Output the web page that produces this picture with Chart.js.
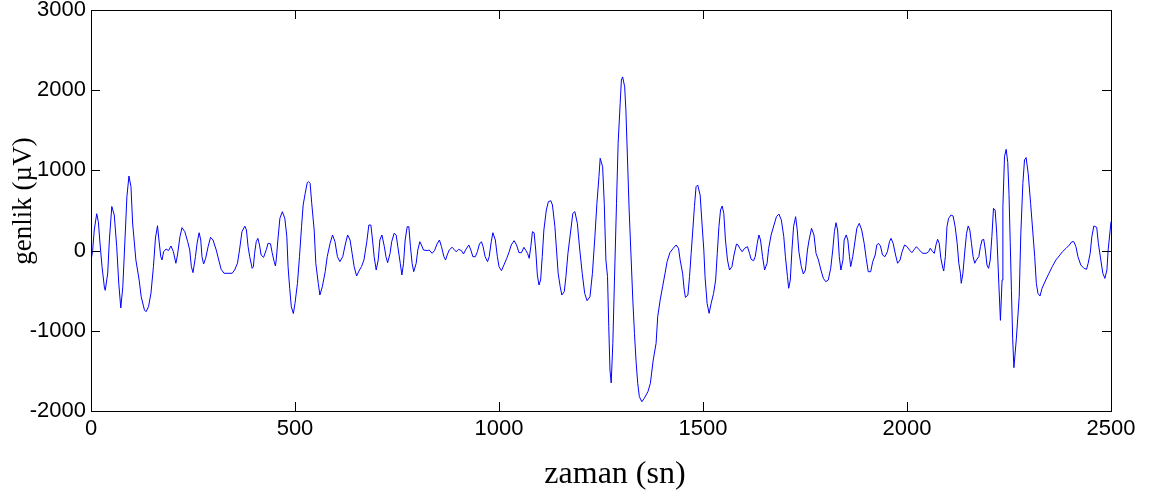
<!DOCTYPE html>
<html>
<head>
<meta charset="utf-8">
<script src="https://cdn.jsdelivr.net/npm/chart.js@4"></script>
<style>
  html, body { margin: 0; padding: 0; background: #fff; }
  canvas { display: block; }
</style>
</head>
<body>
<canvas id="chart" width="1168" height="495"></canvas>
<script>
// Sample times (sn)
const times = [
    0, 4, 8, 14, 18, 22, 27, 33, 35, 41, 45, 51, 57, 63, 68, 73, 78, 84, 88, 93, 98, 102, 110, 118, 123, 131, 135, 141, 147, 153, 158, 163, 166, 171, 174, 178, 184, 190, 196, 202, 208, 212, 218, 223, 230, 237,
    242, 246, 250, 256, 260, 265, 269, 272, 276, 281, 287, 293, 299, 307, 313, 319, 326, 336, 346, 352, 359, 364, 370, 377, 381, 385, 389, 395, 398, 401, 405, 409, 413, 417, 423, 430, 434, 440, 444, 449, 452, 454, 458, 463, 469, 475, 480, 483, 487, 491,
    496, 500, 506, 511, 516, 520, 525, 530, 533, 537, 541, 547, 551, 557, 561, 567, 574, 579, 586, 592, 598, 604, 610, 617, 623, 629, 635, 640, 645, 651, 658, 663, 669, 676, 681, 686, 690, 694, 699, 704, 708, 713, 719, 723, 727, 733, 737, 743,
    748, 752, 758, 762, 766, 770, 775, 779, 783, 787, 791, 797, 801, 806, 811, 815, 824, 829, 836, 842, 848, 854, 859, 865, 869, 873, 878, 885, 890, 895, 901, 908, 913, 919, 926, 931, 936, 942, 947, 952, 957, 961, 966, 972, 976, 981, 985, 991, 996,
    1000, 1006, 1012, 1019, 1025, 1030, 1037, 1043, 1049, 1055, 1061, 1066, 1070, 1074, 1078, 1082, 1086, 1090, 1094, 1098, 1102, 1106, 1110, 1116, 1121, 1127, 1131, 1137, 1141, 1145, 1150, 1154, 1160, 1164, 1169, 1176, 1181, 1186, 1192, 1198, 1204, 1210, 1216, 1223, 1229, 1235, 1240, 1245,
    1248, 1254, 1258, 1262, 1266, 1269, 1272, 1275, 1279, 1283, 1288, 1292, 1297, 1300, 1303, 1308, 1311, 1315, 1319, 1324, 1328, 1332, 1336, 1340, 1344, 1350, 1356, 1365, 1371, 1378, 1385, 1389, 1395, 1401, 1407, 1412, 1419, 1427, 1434, 1440, 1444, 1450, 1454, 1457, 1463, 1467, 1471, 1475, 1479, 1483, 1487, 1493,
    1497, 1502, 1505, 1510, 1515, 1520, 1526, 1531, 1535, 1539, 1543, 1547, 1551, 1555, 1560, 1565, 1571, 1576, 1582, 1586, 1590, 1596, 1602, 1609, 1614, 1618, 1624, 1628, 1633, 1637, 1641, 1646, 1651, 1657, 1661, 1667, 1674, 1680, 1686, 1692, 1698, 1702, 1707, 1710, 1714, 1718, 1722, 1727, 1731, 1735, 1741,
    1746, 1751, 1756, 1760, 1766, 1772, 1777, 1783, 1789, 1795, 1801, 1807, 1813, 1818, 1822, 1826, 1830, 1834, 1838, 1843, 1846, 1851, 1855, 1859, 1862, 1867, 1873, 1877, 1883, 1889, 1895, 1900, 1905, 1911, 1916, 1922, 1926, 1930, 1935, 1940, 1946, 1952, 1957, 1961, 1966, 1972, 1977, 1983, 1988,
    1994, 2000, 2006, 2012, 2018, 2023, 2029, 2034, 2039, 2047, 2053, 2057, 2063, 2067, 2071, 2075, 2079, 2083, 2088, 2090, 2094, 2098, 2102, 2108, 2113, 2118, 2123, 2127, 2131, 2133, 2137, 2142, 2146, 2150, 2154, 2158, 2162, 2166, 2170, 2176, 2180, 2184, 2188, 2192, 2196, 2200, 2204, 2208, 2212, 2216, 2220, 2225, 2229, 2233, 2235, 2239, 2243,
    2247, 2250, 2253, 2256, 2259, 2262, 2268, 2275, 2279, 2284, 2288, 2292, 2297, 2303, 2308, 2313, 2317, 2321, 2326, 2331, 2340, 2348, 2356, 2365, 2373, 2381, 2390, 2398, 2404, 2409, 2414, 2419, 2426, 2434, 2440, 2444, 2449, 2453, 2458, 2465, 2469, 2475, 2480, 2485, 2490, 2493, 2498, 2500
];

// Amplitude (µV) for each time above
const amplitudes = [
    -130, 0, 257, 460, 360, 95, -200, -467, -495, -280, 132, 550, 444, 49, -405, -715, -450, 219, 672, 930, 797, 344, -117, -367, -575, -741, -762, -700, -530, -200, 157, 310, 157, -76, -117, -14, 20, 0, 57, -14, -158, -55, 173, 286, 236, 111,
    7, -200, -275, -76, 91, 223, 132, -76, -167, -96, 49, 166, 132, 7, -117, -233, -283, -283, -283, -242, -158, 7, 236, 305, 257, 49, -76, -221, -200, -34, 111, 153, 70, -55, -84, 16, 91, 85, -26, -138, -192, -117, 132, 403, 485, 403, 173, -200, -470, -700,
    -785, -657, -408, -76, 298, 569, 714, 847, 860, 839, 590, 257, -158, -408, -554, -450, -263, -76, 91, 195, 111, -76, -138, -76, 70, 195, 132, -34, -200, -317, -242, -200, -117, 111, 319, 319, 132, -76, -242, -117, 132, 195, 49, -76, -151, -34, 111, 216,
    195, 49, -158, -304, -158, 132, 298, 298, 49, -158, -263, -158, 7, 111, 57, 7, 0, 7, -34, 0, 82, 132, 49, -76, -117, -55, 7, 41, 16, -14, 16, 0, -42, 16, 70, 7, -76, -76, -14, 82, 111, 49, -76, -138, -76, 111, 223, 132, -76,
    -200, -250, -180, -96, -14, 70, 124, 70, -26, -26, 41, 0, -34, -96, 49, 236, 223, 7, -304, -429, -367, -76, 257, 506, 610, 622, 569, 298, 7, -283, -450, -554, -512, -325, -34, 257, 465, 485, 340, 7, -283, -533, -625, -575, -283, 173, 590, 922,
    1151, 1046, 590, -117, -325, -949, -1489, -1650, -1156, -367, 590, 1338, 1837, 2127, 2165, 2044, 1753, 1130, 506, -117, -616, -1031, -1385, -1655, -1821, -1884, -1842, -1759, -1655, -1364, -1156, -824, -616, -450, -283, -138, -26, 29, 70, 29, -117, -283, -491, -583, -554, -325, -34, 257, 548, 797, 818, 693,
    382, 7, -325, -657, -782, -657, -533, -367, -34, 298, 506, 556, 465, 132, -117, -242, -200, -55, 82, 70, 29, -14, 29, 49, -34, -109, -126, -76, 91, 195, 132, -76, -242, -158, 29, 195, 319, 423, 456, 382, 173, -76, -325, -470, -367, 7, 298, 423, 257, -14, -200,
    -292, -242, 7, 132, 278, 195, -34, -117, -242, -346, -388, -367, -221, 7, 236, 348, 257, -76, -242, -117, 132, 195, 132, -76, -200, -76, 132, 278, 340, 257, 91, -96, -263, -263, -138, -55, 70, 91, 57, -55, -76, -14, 111, 153, 91, -55, -158, -117, -14,
    70, 49, 7, -26, 16, 49, 16, -14, -34, -34, -14, 29, -14, -34, 70, 141, 91, -96, -221, -255, -76, 298, 403, 444, 431, 298, 91, -158, -283, -408, -283, 7, 216, 307, 257, 91, -76, -158, -117, -76, 49, 132, 141, 7, -180, -221, -117, 173, 527, 506, 216, -408, -870, -367, 548, 1171, 1263,
    1100, 700, 100, -500, -1100, -1460, -1100, -575, 216, 839, 1130, 1160, 964, 590, 257, -76, -408, -533, -566, -470, -367, -283, -200, -117, -67, -14, 29, 70, 111, 111, 49, -76, -180, -221, -233, -158, -34, 173, 307, 290, 91, -117, -283, -346, -242, 7, 257, 360
];

// Axis ticks
const xTicks = [0, 500, 1000, 1500, 2000, 2500];
const yTicks = [-2000, -1000, 0, 1000, 2000, 3000];
const xTitle = 'zaman (sn)';
const yTitle = 'genlik (µV)';

const points = times.map((t, i) => ({ x: t, y: amplitudes[i] }));

// Box, inward ticks (both sides) and axis titles, MATLAB style
const matlabAxes = {
    id: 'matlabAxes',
    afterDraw(chart) {
        const { ctx, chartArea: a, scales } = chart;
        const len = 9;
        ctx.save();
        ctx.strokeStyle = '#000';
        ctx.lineWidth = 1;
        ctx.beginPath();
        xTicks.forEach(v => {
            const px = Math.round(scales.x.getPixelForValue(v)) + 0.5;
            ctx.moveTo(px, a.bottom); ctx.lineTo(px, a.bottom - len);
            ctx.moveTo(px, a.top); ctx.lineTo(px, a.top + len);
        });
        yTicks.forEach(v => {
            const py = Math.round(scales.y.getPixelForValue(v)) + 0.5;
            ctx.moveTo(a.left, py); ctx.lineTo(a.left + len, py);
            ctx.moveTo(a.right, py); ctx.lineTo(a.right - len, py);
        });
        ctx.stroke();
        ctx.strokeRect(Math.round(a.left) + 0.5, Math.round(a.top) + 0.5,
            Math.round(a.right - a.left), Math.round(a.bottom - a.top));

        ctx.fillStyle = '#000';
        ctx.textAlign = 'center';
        ctx.textBaseline = 'middle';
        ctx.font = '32px "Liberation Serif", "Times New Roman", serif';
        ctx.fillText(xTitle, 615, 475);
        ctx.translate(24, 201);
        ctx.rotate(-Math.PI / 2);
        ctx.font = '27px "Liberation Serif", "Times New Roman", serif';
        ctx.fillText(yTitle, 0, 0);
        ctx.restore();
    }
};

const tickFont = { family: '"Liberation Sans", Arial, sans-serif', size: 22 };

new Chart(document.getElementById('chart'), {
    type: 'line',
    data: {
        datasets: [{
            data: points,
            borderColor: '#0000ff',
            borderWidth: 1,
            pointRadius: 0,
            tension: 0,
            fill: false
        }]
    },
    options: {
        responsive: false,
        animation: false,
        devicePixelRatio: 1,
        layout: { padding: { top: 10, right: 57, left: 0, bottom: 0 } },
        plugins: { legend: { display: false }, tooltip: { enabled: false } },
        scales: {
            x: {
                type: 'linear',
                min: 0,
                max: 2500,
                grid: { display: false, drawTicks: false },
                border: { display: false },
                ticks: { stepSize: 500, font: tickFont, color: '#000', padding: 5, maxRotation: 0, callback: v => String(v) },
                afterFit: s => { s.height = 84; s.paddingLeft = 0; s.paddingRight = 0; }
            },
            y: {
                min: -2000,
                max: 3000,
                grid: { display: false, drawTicks: false },
                border: { display: false },
                ticks: { stepSize: 1000, font: tickFont, color: '#000', padding: 5, callback: v => String(v) },
                afterFit: s => { s.width = 91; s.paddingTop = 0; s.paddingBottom = 0; }
            }
        }
    },
    plugins: [matlabAxes]
});
</script>
</body>
</html>
